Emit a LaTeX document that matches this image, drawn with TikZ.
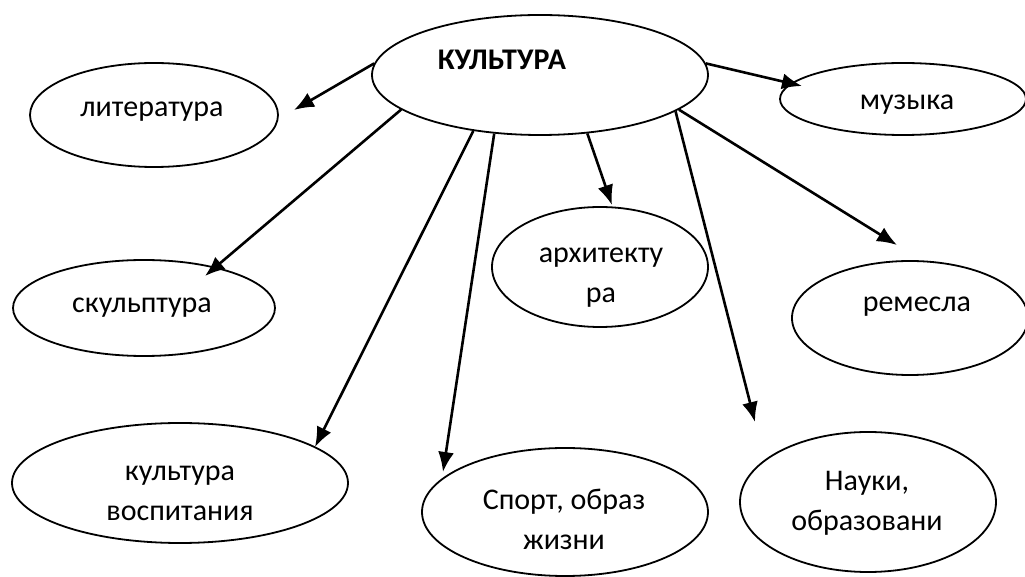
\documentclass[tikz,border=0pt]{standalone}
\usepackage{fontspec}
\setmainfont{Carlito}
\usetikzlibrary{shapes.geometric,arrows.meta}

\begin{document}
\begin{tikzpicture}[x=0.5pt,y=-0.5pt,
oval/.style={draw,ellipse,line width=0.9pt,inner sep=0pt},
word/.style={font=\fontsize{15}{20}\selectfont,align=center,inner sep=0pt},
arr/.style={-{Latex[length=10pt,width=8pt]},line width=1.3pt}]
\useasboundingbox (0,0) rectangle (1025,577);

\node[oval,minimum width=168pt,minimum height=60pt](1) at(540,75){};
\node[oval,minimum width=124pt,minimum height=52pt](2) at(154,115){};
\node[oval,minimum width=123pt,minimum height=36pt](3) at(903,99){};
\node[oval,minimum width=131pt,minimum height=48pt](4) at(144,308){};
\node[oval,minimum width=108pt,minimum height=60pt](5) at(600,267){};
\node[oval,minimum width=118pt,minimum height=57pt](6) at(910,318){};
\node[oval,minimum width=168pt,minimum height=60pt](7) at(180,483){};
\node[oval,minimum width=143pt,minimum height=64pt](8) at(565,512){};
\node[oval,minimum width=128pt,minimum height=70pt](9) at(868,502){};

\node[word,font=\fontsize{15}{20}\selectfont\bfseries](t1) at(502,60){КУЛЬТУРА};
\node[word](t2) at(152,112){литература};
\node[word](t3) at(907,105){музыка};
\node[word](t4) at(142,308){скульптура};
\node[word](t5) at(601,278){архитекту\\ра};
\node[word](t6) at(917,307){ремесла};
\node[word](t7) at(180,493){культура\\воспитания};
\node[word](t8) at(564,519){Спорт, образ\\жизни};
\node[word](t9) at(867,503){Науки,\\образовани};

% arrow tips
\coordinate(c2) at(294,110);
\coordinate(c3) at(802,86);
\coordinate(c4) at(205,276);
\coordinate(c5) at(612,205);
\coordinate(c6) at(897,245);
\coordinate(c7) at(315,447);
\coordinate(c8) at(443,472);
\coordinate(c9) at(755,422);

\draw[arr](1.176)--(c2);
\draw[arr](1.4)--(c3);
\draw[arr](1.194)--(c4);
\draw[arr](1.309)--(c5);
\draw[arr](1.346)--(c6);
\draw[arr](1.220)--(c7);
\draw[arr](1.232)--(c8);
\draw[arr](1.345)--(c9);
\end{tikzpicture}
\end{document}
